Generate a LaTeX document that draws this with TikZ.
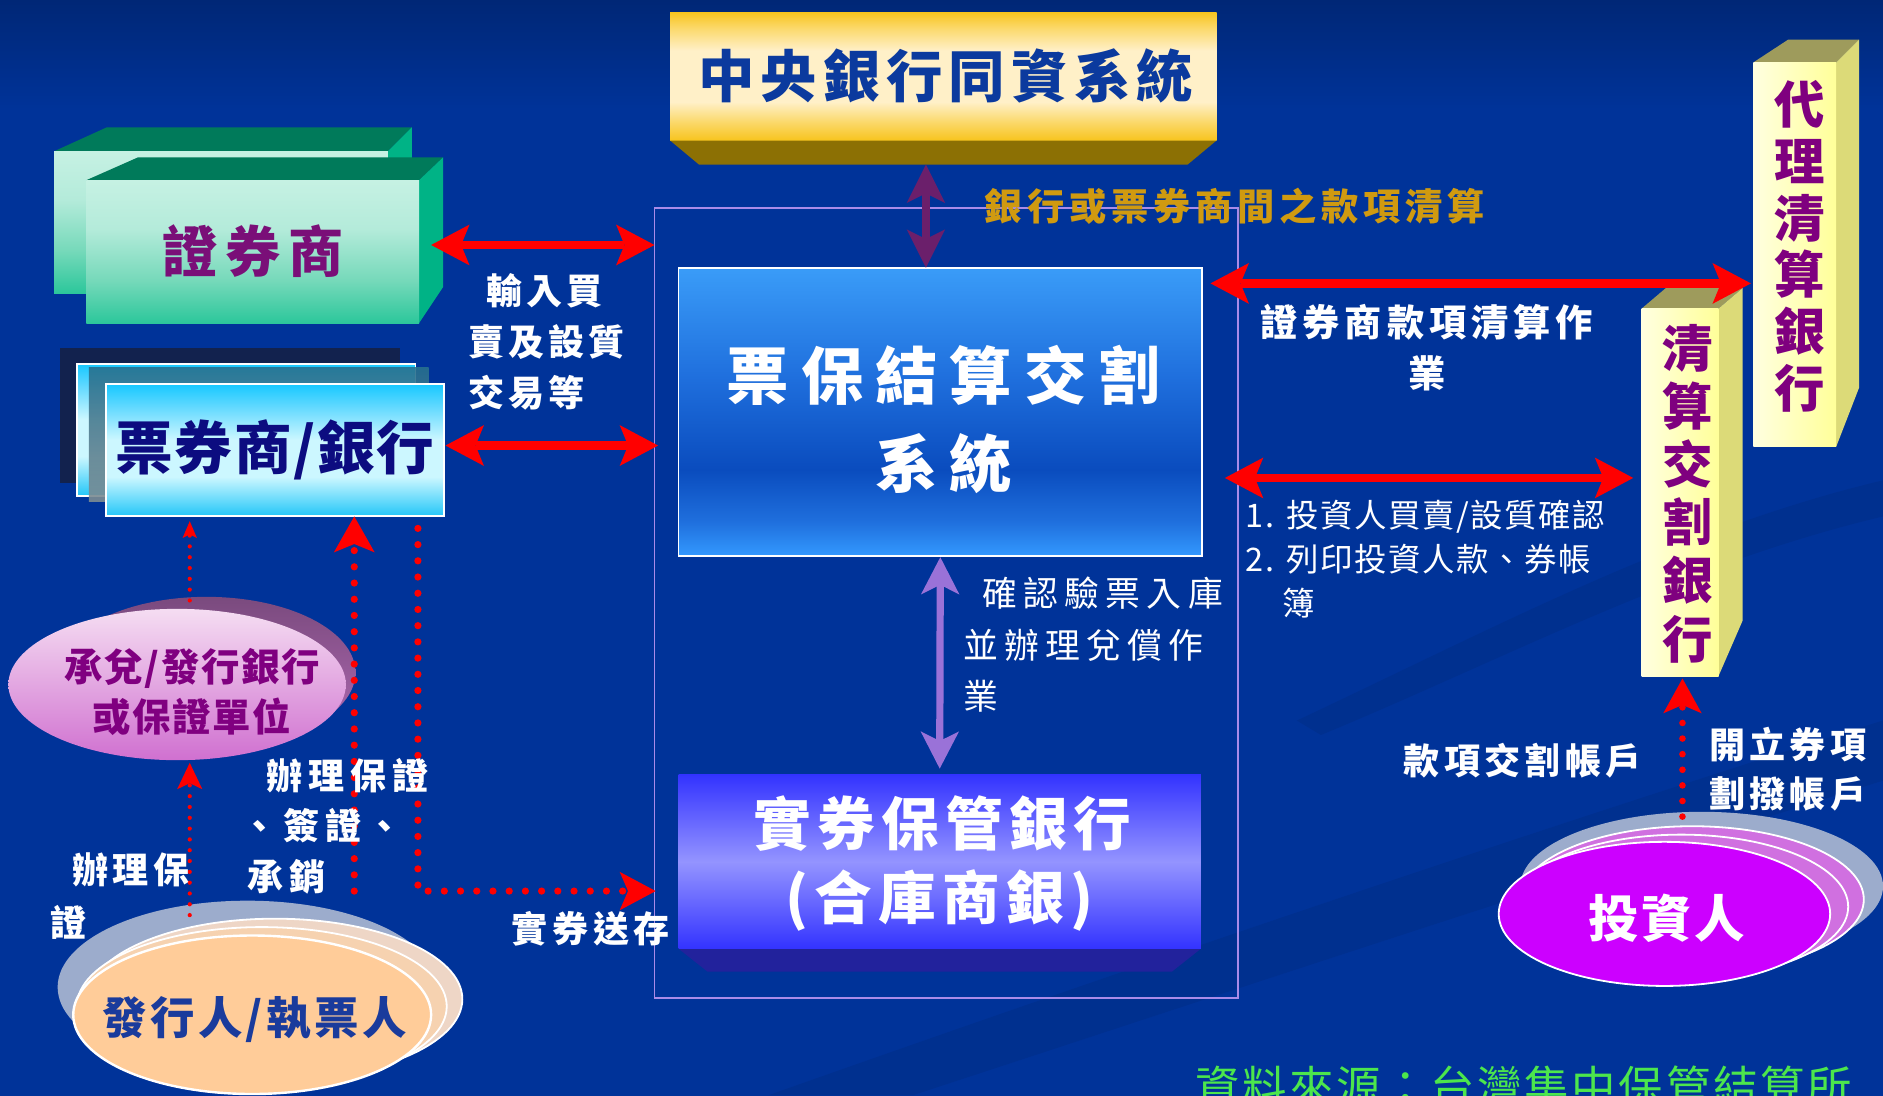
\documentclass[tikz,border=0pt]{standalone}
\usepackage{fontspec}
\setmainfont{Noto Sans CJK TC}
\usetikzlibrary{arrows.meta,calc,shapes.geometric}
\newcommand\myfs[3]{\fontsize{#1}{#2}\selectfont\addfontfeatures{LetterSpace=#3}}
\definecolor{bgblue}{HTML}{003399}
\definecolor{bgtop}{HTML}{002776}
\definecolor{swoosh}{HTML}{00308F}
\definecolor{goldA}{HTML}{F7C41E}
\definecolor{goldB}{HTML}{FBD868}
\definecolor{goldC}{HTML}{FFF0C8}
\definecolor{goldbevel}{HTML}{8C7004}
\definecolor{cbcblue}{HTML}{0B3A9E}
\definecolor{frameline}{HTML}{A98BE8}
\definecolor{pbA}{HTML}{3399FF}
\definecolor{pbB}{HTML}{1F6FDD}
\definecolor{pbC}{HTML}{0A4CBE}
\definecolor{pbD}{HTML}{3A9CF8}
\definecolor{sqA}{HTML}{3333FF}
\definecolor{sqB}{HTML}{9494FF}
\definecolor{sqbevel}{HTML}{22229C}
\definecolor{mintA}{HTML}{2CC79B}
\definecolor{mintB}{HTML}{76D9BA}
\definecolor{mintC}{HTML}{B4EBDA}
\definecolor{mintD}{HTML}{C6F1E3}
\definecolor{zqtop}{HTML}{007A5A}
\definecolor{zqside}{HTML}{00B386}
\definecolor{zqpurple}{HTML}{7A0F78}
\definecolor{cyA}{HTML}{22C6F8}
\definecolor{cyB}{HTML}{CCF7FF}
\definecolor{cyC}{HTML}{66DAFF}
\definecolor{cyD}{HTML}{18C8FF}
\definecolor{pqdark}{HTML}{12224E}
\definecolor{pqnavy}{HTML}{0C0C80}
\definecolor{ovtop}{HTML}{27708F}
\definecolor{ovbot}{HTML}{7E8C92}
\definecolor{pltop}{HTML}{9E9B5C}
\definecolor{plside}{HTML}{DCDA78}
\definecolor{plL}{HTML}{FFFFE0}
\definecolor{plR}{HTML}{FFFF99}
\definecolor{plpurple}{HTML}{7F007F}
\definecolor{cdtop}{HTML}{7A4A7E}
\definecolor{cdbot}{HTML}{B46CB6}
\definecolor{cdA}{HTML}{F5DDF2}
\definecolor{cdB}{HTML}{D070D0}
\definecolor{cdtext}{HTML}{800080}
\definecolor{glow}{HTML}{9CACCC}
\definecolor{peachA}{HTML}{EED6C6}
\definecolor{peachB}{HTML}{F6D2B0}
\definecolor{peach}{HTML}{FFCC99}
\definecolor{fxtext}{HTML}{1A3B9C}
\definecolor{invA}{HTML}{D070E0}
\definecolor{inv}{HTML}{CC00FF}
\definecolor{arrred}{HTML}{FF0000}
\definecolor{arrpurple}{HTML}{6B1F6B}
\definecolor{arrlav}{HTML}{9A72D8}
\definecolor{goldtext}{HTML}{D09A10}
\definecolor{srcgreen}{HTML}{4CE64C}
\pgfdeclareverticalshading{bgsh}{100bp}{color(0bp)=(bgblue); color(25bp)=(bgblue); color(70bp)=(bgblue); color(75bp)=(bgtop); color(100bp)=(bgtop)}
\pgfdeclareverticalshading{goldsh}{100bp}{color(0bp)=(goldA); color(25bp)=(goldA); color(32bp)=(goldB); color(40bp)=(goldC); color(60bp)=(goldC); color(69bp)=(goldB); color(75bp)=(goldA); color(100bp)=(goldA)}
\pgfdeclareverticalshading{pbsh}{100bp}{color(0bp)=(pbA); color(25bp)=(pbA); color(31bp)=(pbB); color(40bp)=(pbC); color(56bp)=(pbB); color(75bp)=(pbD); color(100bp)=(pbD)}
\pgfdeclareverticalshading{sqsh}{100bp}{color(0bp)=(sqA); color(25bp)=(sqA); color(50bp)=(sqB); color(75bp)=(sqA); color(100bp)=(sqA)}
\pgfdeclareverticalshading{mintsh}{100bp}{color(0bp)=(mintA); color(25bp)=(mintA); color(40bp)=(mintB); color(58bp)=(mintC); color(75bp)=(mintD); color(100bp)=(mintD)}
\pgfdeclareverticalshading{cyansh}{100bp}{color(0bp)=(cyA); color(25bp)=(cyA); color(40bp)=(cyB); color(54bp)=(cyB); color(66bp)=(cyC); color(75bp)=(cyD); color(100bp)=(cyD)}
\tikzset{
  box/.style={rectangle, inner sep=0pt, outer sep=0pt, anchor=north west},
  lbl/.style={inner sep=0pt, text=white},
  redarr/.style={draw=arrred, line width=7pt, >={Stealth[length=32pt,width=34pt,inset=7pt,line width=0pt]}, <->},
  purarr/.style={draw=arrpurple, line width=7pt, >={Stealth[length=32pt,width=32pt,inset=8pt,line width=0pt]}, <->},
  lavarr/.style={draw=arrlav, line width=6pt, >={Stealth[length=31pt,width=32pt,inset=8pt,line width=0pt]}, <->},
  bigdot/.style={draw=arrred, line width=6pt, line cap=round, dash pattern=on 0pt off 13.5pt},
  middot/.style={draw=arrred, line width=5.5pt, line cap=round, dash pattern=on 0pt off 13pt},
  smalldot/.style={draw=arrred, line width=3.5pt, line cap=round, dash pattern=on 0pt off 9pt},
  stack/.style={draw=white, line width=1.5pt}
}
\begin{document}
\begin{tikzpicture}[x=1pt,y=-1pt]
\useasboundingbox (0,0) rectangle (1568,912);
\begin{scope}
\clip (0,0) rectangle (1568,912);
% background
\shade[shading=bgsh] (0,0) rectangle (1568,912);
\fill[swoosh] (640,912) .. controls (900,820) and (1250,700) .. (1568,600) -- (1568,650) .. controls (1250,750) and (950,850) .. (760,912) -- cycle;
\fill[swoosh] (1080,600) .. controls (1250,520) and (1400,440) .. (1568,400) -- (1568,430) .. controls (1400,470) and (1250,550) .. (1100,612) -- cycle;

% central bank box
\node[box, shading=goldsh, minimum width=455pt, minimum height=107pt, text=cbcblue, font={\bfseries\myfs{47}{50}{11}}] (cbc) at (558,10)
  {\hspace*{4pt}中央銀行同資系統};
\fill[goldbevel] (cbc.south west) -- (cbc.south east) -- ++(-24,20) -- ($(cbc.south west)+(24,20)$) -- cycle;

% frame
\node[box, draw=frameline, line width=1.5pt, minimum width=486pt, minimum height=658pt] (frame) at (545,173) {};

% 證券商 (two 3-D boxes)
\fill[zqtop] (45,126) -- (89,106) -- (343,106) -- (323,126) -- cycle;
\fill[zqside] (323,126) -- (343,106) -- (343,215) -- (323,244) -- cycle;
\node[box, shading=mintsh, minimum width=278pt, minimum height=118pt] (zqback) at (45,126) {};
\fill[zqtop] (72,150) -- (115,131) -- (369,131) -- (349,150) -- cycle;
\fill[zqside] (349,150) -- (369,131) -- (369,239) -- (349,269) -- cycle;
\node[box, shading=mintsh, minimum width=277pt, minimum height=119pt, text=zqpurple, font={\bfseries\myfs{46}{50}{14}}] (zqs) at (72,150)
  {證券商};

% 票券商/銀行 stack
\fill[pqdark] (50,290) rectangle (333,402);
\node[box, shading=cyansh, draw=white, line width=1.5pt, minimum width=282pt, minimum height=110pt] (pqback) at (64,303) {};
\shade[top color=ovtop, bottom color=ovbot, opacity=0.9] (74,306) rectangle (357,418);
\node[box, shading=cyansh, draw=white, line width=1.5pt, minimum width=282pt, minimum height=110pt, text=pqnavy, font={\bfseries\myfs{48}{50}{3}}] (pqs) at (88,320)
  {票券商/銀行};

% 票保結算交割系統
\node[box, shading=pbsh, draw=white, line width=1.2pt, minimum width=436pt, minimum height=240pt, align=center, text=white, font={\bfseries\myfs{52}{73}{19}}] (pb) at (565,223)
  {\rule{0pt}{58pt}\hspace*{6pt}票保結算交割\\\hspace*{6pt}系統};

% 實券保管銀行
\fill[sqbevel] (565,790) -- (1000,790) -- (976,809) -- (589,809) -- cycle;
\node[box, shading=sqsh, minimum width=435pt, minimum height=145pt, align=center, text=white, font={\bfseries\myfs{48}{62}{11}}] (sq) at (565,645)
  {\rule{0pt}{45pt}\hspace*{4pt}實券保管銀行\\(合庫商銀)};

% 代理清算銀行 pillar
\fill[pltop] (1460,52) -- (1489,33) -- (1548,33) -- (1529,52) -- cycle;
\fill[plside] (1529,52) -- (1548,33) -- (1548,323) -- (1529,372) -- cycle;
\node[box, left color=plL, right color=plR, minimum width=69pt, minimum height=320pt] (dl) at (1460,52) {};
\node[inner sep=0pt, align=center, text=plpurple, font={\bfseries\myfs{42}{47.2}{0}}] (dltext) at (1499,205) {代\\理\\清\\算\\銀\\行};

% 清算交割銀行 pillar
\fill[pltop] (1367,257) -- (1387,240) -- (1451,240) -- (1431,257) -- cycle;
\fill[plside] (1431,257) -- (1451,240) -- (1451,517) -- (1431,563) -- cycle;
\node[box, left color=plL, right color=plR, minimum width=64pt, minimum height=306pt] (qs) at (1367,257) {};
\node[inner sep=0pt, align=center, text=plpurple, font={\bfseries\myfs{42}{48.4}{0}}] (qstext) at (1405,411) {清\\算\\交\\割\\銀\\行};

% 承兌/發行銀行 ellipse
\shade[top color=cdtop, bottom color=cdbot] (172,560) ellipse [x radius=124, y radius=63];
\node[ellipse, top color=cdA, bottom color=cdB, minimum width=281pt, minimum height=126pt, inner sep=0pt] (cd) at (147.5,570) {};
\node[inner sep=0pt, align=center, text=cdtext, font={\bfseries\myfs{32}{42}{4}}] (cdtxt) at (160,576) {承兌/發行銀行\\或保證單位};

% 發行人/執票人 stack
\fill[glow] (206,822) ellipse [x radius=158, y radius=72];
\filldraw[stack, fill=peachA] (229,832) ellipse [x radius=156, y radius=67];
\filldraw[stack, fill=peachB] (218,838) ellipse [x radius=154, y radius=66];
\node[ellipse, fill=peach, draw=white, line width=2pt, minimum width=298pt, minimum height=132pt, inner sep=0pt] (fx) at (210,845) {};
\node[inner sep=0pt, text=fxtext, font={\bfseries\myfs{37}{40}{8}}] (fxtxt) at (212,849) {發行人/執票人};

% 投資人 stack
\fill[glow] (1417,738) ellipse [x radius=151, y radius=62];
\filldraw[stack, fill=invA] (1409,749) ellipse [x radius=143, y radius=61];
\filldraw[stack, fill=invA] (1400,755) ellipse [x radius=139, y radius=60];
\node[ellipse, fill=inv, draw=white, line width=1.5pt, minimum width=276pt, minimum height=120pt, inner sep=0pt] (inv) at (1386,761) {};
\node[inner sep=0pt, text=white, font={\bfseries\myfs{42}{45}{5}}] (invtxt) at (1388,765) {投資人};

% solid arrows
\coordinate (zqR) at (359,204);
\draw[redarr] (zqR) -- (frame.west |- zqR);
\coordinate (pqR) at (371,371);
\draw[redarr] (pqR) -- ([xshift=3pt]frame.west |- pqR);
\coordinate (pbR1) at (1008,236);
\draw[redarr] (pbR1) -- ([xshift=-2pt]dl.west |- pbR1);
\coordinate (pbR2) at (1020,398);
\draw[redarr] (pbR2) -- ([xshift=-7pt]qs.west |- pbR2);
\coordinate (cbcB) at (771,137);
\draw[purarr] (cbcB) -- (cbcB |- pb.north);
\draw[lavarr] ([yshift=-1pt]pb.south) -- ([yshift=5pt]sq.north);

% dotted arrows
\coordinate (cdTop) at (158,500);
\draw[smalldot, -{Stealth[length=14pt,width=12pt,inset=3pt,line width=0pt]}] (cdTop) -- ([yshift=-4pt]pqs.south -| cdTop);
\coordinate (fxA) at (158,762);
\draw[smalldot, -{Stealth[length=22pt,width=21pt,inset=5pt,line width=0pt]}] (fxA) -- ([yshift=-2pt]cd.south -| fxA);
\coordinate (fxB) at (295,742);
\draw[bigdot, -{Stealth[length=30pt,width=34pt,inset=7pt,line width=0pt]}] (fxB) -- (pqs.south -| fxB);
\coordinate (pqD) at (348,440);
\draw[bigdot, -{Stealth[length=30pt,width=32pt,inset=7pt,line width=0pt]}] (pqD) -- (348,742) -- ([xshift=1pt]frame.west |- 0,742);
\coordinate (invT) at (1401,680);
\draw[middot, -{Stealth[length=29pt,width=32pt,inset=7pt,line width=0pt]}] (invT) -- ([yshift=-2pt]qs.south -| invT);

% labels
\node[inner sep=0pt, anchor=west, text=goldtext, font={\bfseries\myfs{31}{35}{13}}] (lgold) at (820,172) {銀行或票券商間之款項清算};
\node[lbl, anchor=west, align=left, font={\bfseries\myfs{30}{42.5}{11}}] (lbuy) at (390,284.5) {\hspace*{15pt}輸入買\\賣及設質\\交易等};
\node[lbl, align=center, font={\bfseries\myfs{31}{43}{13}}] (lzq) at (1188,289.5) {證券商款項清算作\\業};
\node[lbl, anchor=west, align=left, font={\myfs{27}{36.5}{5}}] (linv) at (1037,465.5) {1. 投資人買賣/設質確認\\2. 列印投資人款、券帳\\\hspace*{31pt}簿};
\node[lbl, anchor=west, align=left, font={\myfs{29}{43}{18}}] (lconf) at (802,537) {\hspace*{16pt}確認驗票入庫\\並辦理兌償作\\業};
\node[lbl, font={\bfseries\myfs{30}{35}{12}}] (lkx) at (1268,633) {款項交割帳戶};
\node[lbl, anchor=west, align=left, font={\bfseries\myfs{30}{41}{12}}] (lkl) at (1423,640.5) {開立券項\\劃撥帳戶};
\node[lbl, anchor=west, align=left, font={\bfseries\myfs{30}{42}{16}}] (lbz) at (201,688) {\hspace*{21pt}辦理保證\\、簽證、\\\hspace*{5pt}承銷};
\node[lbl, anchor=west, align=left, font={\bfseries\myfs{30}{44}{13}}] (lbb) at (42,746) {\hspace*{18pt}辦理保\\證};
\node[lbl, font={\bfseries\myfs{30}{35}{13}}] (lsc) at (492,773) {實券送存};
\node[inner sep=0pt, anchor=west, text=srcgreen, font={\myfs{37}{40}{6}}] (lsrc) at (995,905) {資料來源：台灣集中保管結算所};
\end{scope}
\end{tikzpicture}
\end{document}
